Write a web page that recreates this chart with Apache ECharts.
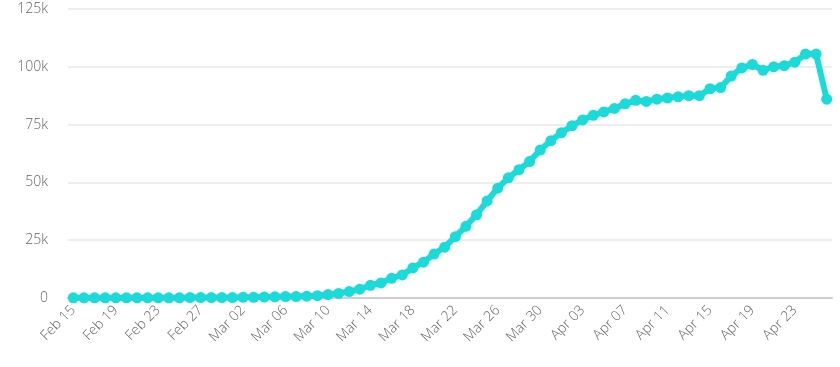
<!DOCTYPE html>
<html>
<head>
<meta charset="utf-8">
<script src="https://cdn.jsdelivr.net/npm/echarts@6/dist/echarts.min.js"></script>
<style>html,body{margin:0;padding:0;background:#fff}#c{width:840px;height:367px}</style>
</head>
<body>
<div id="c"></div>
<script>
const categories = [
  "Feb 15","Feb 16","Feb 17","Feb 18","Feb 19","Feb 20","Feb 21","Feb 22","Feb 23","Feb 24","Feb 25","Feb 26","Feb 27","Feb 28","Feb 29",
  "Mar 01","Mar 02","Mar 03","Mar 04","Mar 05","Mar 06","Mar 07","Mar 08","Mar 09","Mar 10","Mar 11","Mar 12","Mar 13","Mar 14","Mar 15",
  "Mar 16","Mar 17","Mar 18","Mar 19","Mar 20","Mar 21","Mar 22","Mar 23","Mar 24","Mar 25","Mar 26","Mar 27","Mar 28","Mar 29","Mar 30","Mar 31",
  "Apr 01","Apr 02","Apr 03","Apr 04","Apr 05","Apr 06","Apr 07","Apr 08","Apr 09","Apr 10","Apr 11","Apr 12","Apr 13","Apr 14","Apr 15",
  "Apr 16","Apr 17","Apr 18","Apr 19","Apr 20","Apr 21","Apr 22","Apr 23","Apr 24","Apr 25","Apr 26"
];
const values = [
  100,100,100,100,100,100,100,100,100,100,100,200,200,200,200,
  200,300,300,400,500,600,600,800,1000,1500,2000,2800,3800,5500,6500,
  8500,10000,13000,15500,19000,22000,26500,31000,36000,42000,47500,52000,55500,59000,64000,68000,
  71500,74500,77000,79000,80500,82000,84000,85500,85000,86000,86500,87000,87500,87500,90500,
  91000,96000,99500,101000,98500,100000,100500,102000,105500,105500,86000
];
const yTicks = { min: 0, max: 125000, interval: 25000 };

const chart = echarts.init(document.getElementById('c'));
chart.setOption({
  animation: false,
  grid: { left: 68, right: 8, top: 9, bottom: 69 },
  xAxis: {
    type: 'category',
    data: categories,
    boundaryGap: true,
    axisLine: { lineStyle: { color: '#ccccdd', width: 2 } },
    axisTick: { show: false },
    axisLabel: {
      interval: 3,
      rotate: 45,
      color: '#666',
      fontSize: 14,
      fontWeight: 300,
      fontFamily: 'Open Sans',
      margin: 10
    },
    splitLine: { show: false }
  },
  yAxis: {
    type: 'value',
    min: yTicks.min,
    max: yTicks.max,
    interval: yTicks.interval,
    axisLine: { show: false },
    axisTick: { show: false },
    axisLabel: {
      color: '#666',
      fontSize: 14,
      fontWeight: 300,
      fontFamily: 'Open Sans',
      margin: 20,
      formatter: v => v === 0 ? '0' : (v / 1000) + 'k'
    },
    splitLine: { lineStyle: { color: '#eeeeee', width: 2 } }
  },
  series: [{
    type: 'line',
    data: values,
    symbol: 'circle',
    symbolSize: 11,
    showAllSymbol: true,
    itemStyle: { color: '#1adada' },
    lineStyle: { color: '#1adada', width: 6 }
  }]
});
</script>
</body>
</html>
